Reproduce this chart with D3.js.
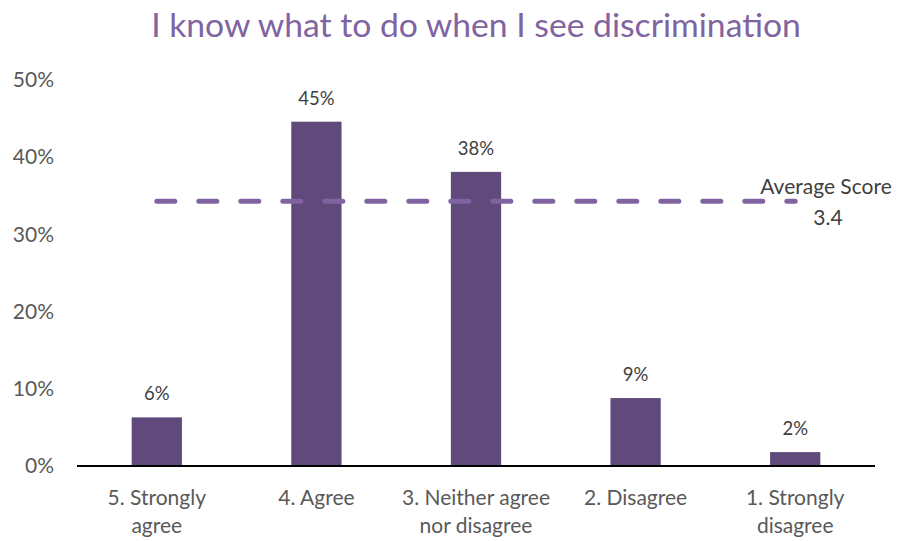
<!DOCTYPE html>
<html>
<head>
<meta charset="utf-8">
<script src="https://cdn.jsdelivr.net/npm/d3@7/dist/d3.min.js"></script>
<style>
  html, body { margin: 0; padding: 0; background: #ffffff; }
  svg { display: block; font-family: Lato, "Open Sans", sans-serif; }
</style>
</head>
<body>
<svg id="chart" width="898" height="541"></svg>
<script>
// Survey responses
const categories = [
  ["5. Strongly", "agree"],
  ["4. Agree"],
  ["3. Neither agree", "nor disagree"],
  ["2. Disagree"],
  ["1. Strongly", "disagree"]
];
const shares = [0.063, 0.446, 0.381, 0.088, 0.018];
const averageShareLevel = 0.343;
const averageScore = 3.4;
const yTicks = [0, 0.1, 0.2, 0.3, 0.4, 0.5];
const titleText = "I know what to do when I see discrimination";

const svg = d3.select("#chart");
const margin = { left: 77, right: 23 };
const width = 898;
const plotBottom = 466, plotTop = 80;

const keys = categories.map(c => c.join(" "));
const x = d3.scaleBand()
  .domain(keys)
  .range([margin.left, width - margin.right])
  .paddingInner(0.685)
  .paddingOuter(0.3425);

const y = d3.scaleLinear().domain([0, 0.5]).range([plotBottom, plotTop]);

// Title
svg.append("text")
  .attr("x", 476).attr("y", 37)
  .attr("text-anchor", "middle")
  .attr("fill", "#8064a2")
  .attr("font-size", 33.7)
  .text(titleText);

// Y axis labels (no axis line, no ticks)
const yAxis = d3.axisLeft(y).tickValues(yTicks).tickFormat(d3.format(".0%")).tickSize(0).tickPadding(0);
const yg = svg.append("g").attr("transform", "translate(54,0)").call(yAxis);
yg.select(".domain").remove();
yg.selectAll("text")
  .attr("fill", "#595959")
  .attr("font-size", 21)
  .attr("font-family", "Lato, 'Open Sans', sans-serif");

// Bars
svg.append("g").selectAll("rect")
  .data(shares)
  .join("rect")
  .attr("x", (d, i) => x(keys[i]))
  .attr("y", d => y(d))
  .attr("width", x.bandwidth())
  .attr("height", d => y(0) - y(d))
  .attr("fill", "#604a7b");

// Value labels
svg.append("g").selectAll("text")
  .data(shares)
  .join("text")
  .attr("x", (d, i) => x(keys[i]) + x.bandwidth() / 2)
  .attr("y", d => y(d) - 17)
  .attr("text-anchor", "middle")
  .attr("fill", "#404040")
  .attr("font-size", 18.5)
  .text(d => d3.format(".0%")(d));

// X axis baseline and category labels
const xAxis = d3.axisBottom(x).tickSize(0).tickFormat("");
const xg = svg.append("g").attr("transform", `translate(0,${plotBottom})`).call(xAxis);
xg.select(".domain").attr("stroke", "#000").attr("stroke-width", 2)
  .attr("d", `M${margin.left},0H${width - margin.right}`);

const catG = svg.append("g");
categories.forEach((lines, i) => {
  const cx = x(keys[i]) + x.bandwidth() / 2;
  const t = catG.append("text")
    .attr("x", cx)
    .attr("y", 505)
    .attr("text-anchor", "middle")
    .attr("fill", "#595959")
    .attr("font-size", 21);
  lines.forEach((ln, j) => {
    t.append("tspan")
      .attr("x", cx)
      .attr("dy", j === 0 ? 0 : 28)
      .text(ln);
  });
});

// Average score line across category centres
const line = d3.line()
  .x(d => x(d) + x.bandwidth() / 2)
  .y(() => y(averageShareLevel));
svg.append("path")
  .datum(keys)
  .attr("d", line)
  .attr("fill", "none")
  .attr("stroke", "#8064a2")
  .attr("stroke-width", 5)
  .attr("stroke-linecap", "round")
  .attr("stroke-dasharray", "18,24");

// Average label
const avgX = 826;
svg.append("text")
  .attr("x", avgX).attr("y", 194)
  .attr("text-anchor", "middle")
  .attr("fill", "#404040")
  .attr("font-size", 21)
  .text("Average Score");
svg.append("text")
  .attr("x", avgX + 2).attr("y", 225)
  .attr("text-anchor", "middle")
  .attr("fill", "#404040")
  .attr("font-size", 21)
  .text(averageScore.toFixed(1));
</script>
</body>
</html>
